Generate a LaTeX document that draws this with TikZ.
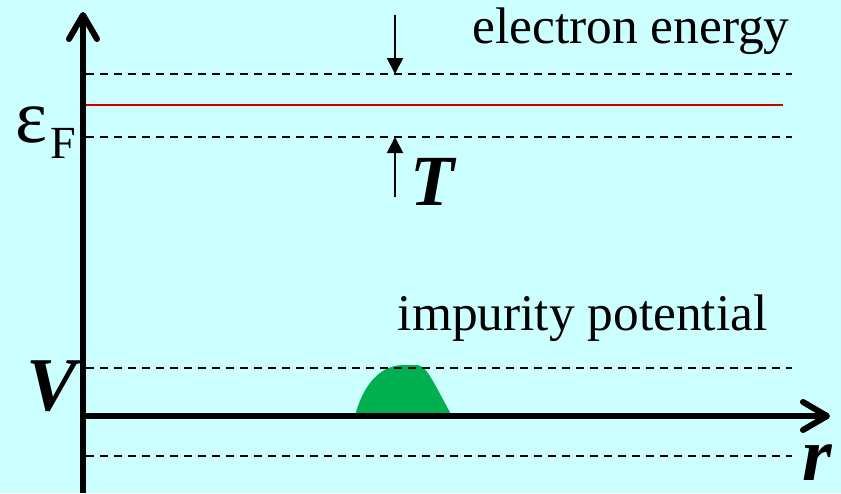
\documentclass[tikz,border=0pt]{standalone}
\usepackage{fontspec}
\setmainfont{Liberation Serif}
\usetikzlibrary{arrows.meta}
\definecolor{bgcyan}{HTML}{CCFFFF}
\definecolor{bumpgreen}{HTML}{00B050}
\definecolor{fermired}{HTML}{CC0000}
\tikzset{
  level/.style={dash pattern=on 4pt off 3pt, line width=1pt},
  axis/.style={line width=3pt, -{Straight Barb[length=12pt,width=14pt,line join=round,line cap=round]}},
  marker/.style={line width=1pt, -{Triangle[length=8pt,width=8pt]}},
  lbl/.style={inner sep=0pt, font=\fontsize{25.7}{30}\selectfont},
  sym/.style={inner sep=0pt, anchor=base west, font=\fontsize{#1}{40}\selectfont\bfseries\itshape}
}
\begin{document}
\begin{tikzpicture}[x=0.5pt,y=-0.5pt]
\fill[bgcyan] (0,0) rectangle (841,493);
\useasboundingbox (0,0) rectangle (841,493);
% impurity bump
\fill[bumpgreen] (355,416) .. controls (362,388) and (378,366) .. (402,365)
  -- (417,365) .. controls (427,366) and (432,380) .. (452,416) -- cycle;
% energy levels
\foreach \y in {74,137,368,456}
  \draw[level] (86,\y) -- (792,\y);
\draw[fermired, line width=1pt] (86,105) -- (783,105);
% axes
\coordinate (origin) at (83,416);
\coordinate (ytip) at (83,12);
\coordinate (xtip) at (830,416);
\draw[axis] (83,493) -- (ytip);
\draw[axis] (80,416) -- (xtip);
% temperature window
\coordinate (downtail) at (395,15);
\coordinate (downtip) at (395,74);
\coordinate (uptail) at (395,197);
\coordinate (uptip) at (395,137);
\draw[marker] (downtail) -- (downtip);
\draw[marker] (uptail) -- (uptip);
% labels
\node[lbl, anchor=base east] (elabel) at (790,43) {electron energy};
\node[lbl, anchor=base east] (ilabel) at (768,330) {impurity potential};
\node[inner sep=0pt, anchor=base west, font=\fontsize{38}{40}\selectfont] (eps) at (15,142) {ε};
\node[inner sep=0pt, anchor=base west, font=\fontsize{23}{26}\selectfont] (fsub) at (50,158) {F};
\node[sym=36] (tlabel) at (410,205) {T};
\node[sym=38] (vlabel) at (26,410) {V};
\node[sym=38] (rlabel) at (802,480) {r};
\end{tikzpicture}
\end{document}
